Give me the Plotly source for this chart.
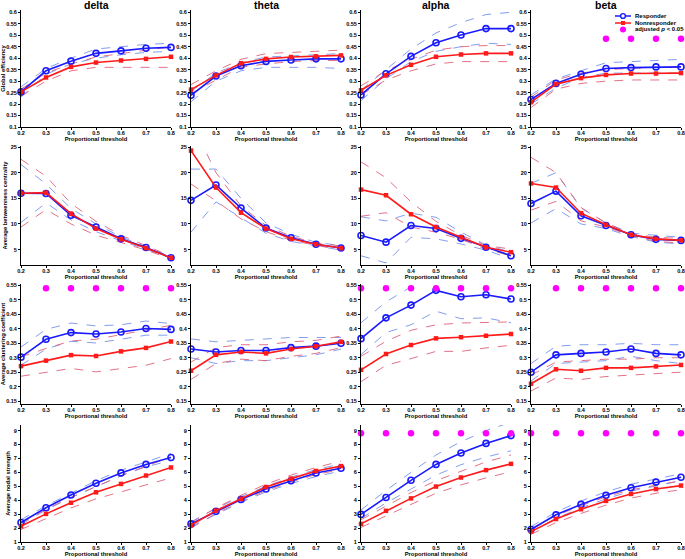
import plotly.graph_objects as go

W, H = 685, 559

thresholds = [0.2, 0.3, 0.4, 0.5, 0.6, 0.7, 0.8]
band_names = ["delta", "theta", "alpha", "beta"]
metric_names = ["Global efficiency", "Average betweenness centrality",
                "Average clustering coefficient", "Average nodal strength"]
x_title = "Proportional threshold"
legend_labels = ["Responder", "Nonresponder", "adjusted <i>p</i> < 0.05"]

# ---------------- Global efficiency ----------------
ge_delta_r = [0.253, 0.345, 0.387, 0.421, 0.432, 0.443, 0.447]
ge_delta_r_hi = [0.275, 0.355, 0.400, 0.440, 0.450, 0.460, 0.465]
ge_delta_r_lo = [0.230, 0.330, 0.375, 0.400, 0.415, 0.425, 0.430]
ge_delta_n = [0.253, 0.316, 0.362, 0.381, 0.390, 0.397, 0.406]
ge_delta_n_hi = [0.265, 0.335, 0.375, 0.405, 0.420, 0.435, 0.450]
ge_delta_n_lo = [0.235, 0.300, 0.345, 0.360, 0.360, 0.360, 0.360]

ge_theta_r = [0.238, 0.322, 0.367, 0.386, 0.392, 0.397, 0.397]
ge_theta_r_hi = [0.255, 0.335, 0.380, 0.405, 0.410, 0.415, 0.420]
ge_theta_r_lo = [0.210, 0.300, 0.345, 0.360, 0.360, 0.360, 0.355]
ge_theta_n = [0.263, 0.325, 0.378, 0.397, 0.405, 0.408, 0.412]
ge_theta_n_hi = [0.285, 0.345, 0.395, 0.420, 0.425, 0.430, 0.435]
ge_theta_n_lo = [0.245, 0.305, 0.360, 0.375, 0.385, 0.390, 0.390]

ge_alpha_r = [0.240, 0.332, 0.408, 0.467, 0.501, 0.529, 0.529]
ge_alpha_r_hi = [0.260, 0.350, 0.440, 0.510, 0.555, 0.590, 0.600]
ge_alpha_r_lo = [0.215, 0.310, 0.385, 0.430, 0.450, 0.465, 0.460]
ge_alpha_n = [0.260, 0.325, 0.371, 0.406, 0.416, 0.421, 0.421]
ge_alpha_n_hi = [0.280, 0.345, 0.395, 0.435, 0.450, 0.455, 0.455]
ge_alpha_n_lo = [0.240, 0.305, 0.345, 0.375, 0.385, 0.385, 0.385]

ge_beta_r = [0.220, 0.290, 0.330, 0.355, 0.359, 0.362, 0.362]
ge_beta_r_hi = [0.240, 0.310, 0.345, 0.380, 0.385, 0.390, 0.395]
ge_beta_r_lo = [0.200, 0.270, 0.315, 0.335, 0.335, 0.335, 0.335]
ge_beta_n = [0.208, 0.287, 0.313, 0.327, 0.333, 0.333, 0.335]
ge_beta_n_hi = [0.230, 0.305, 0.335, 0.350, 0.355, 0.360, 0.360]
ge_beta_n_lo = [0.185, 0.265, 0.290, 0.300, 0.305, 0.305, 0.305]

# ---------------- Betweenness centrality ----------------
bc_delta_r = [16.0, 15.95, 11.7, 9.4, 7.1, 5.4, 3.4]
bc_delta_r_hi = [21.6, 17.8, 13.0, 10.0, 7.5, 5.6, 3.6]
bc_delta_r_lo = [10.3, 14.1, 10.8, 8.5, 6.7, 5.1, 3.3]
bc_delta_n = [16.0, 16.1, 12.0, 9.1, 7.0, 5.3, 3.4]
bc_delta_n_hi = [22.6, 19.3, 14.0, 10.5, 7.8, 5.8, 3.7]
bc_delta_n_lo = [9.4, 12.8, 10.0, 7.8, 6.4, 4.9, 3.2]

bc_theta_r = [14.6, 17.6, 13.1, 9.2, 7.3, 6.05, 5.3]
bc_theta_r_hi = [20.7, 20.7, 15.0, 10.2, 8.0, 6.4, 5.8]
bc_theta_r_lo = [8.4, 14.3, 11.2, 8.2, 6.6, 5.7, 4.9]
bc_theta_n = [24.3, 17.1, 12.2, 9.1, 7.1, 6.05, 5.3]
bc_theta_n_hi = [30.0, 20.0, 13.5, 9.7, 7.6, 6.3, 5.7]
bc_theta_n_lo = [17.8, 14.5, 11.0, 8.5, 6.8, 5.8, 4.9]

bc_alpha_r = [7.75, 6.45, 9.7, 9.1, 7.2, 5.45, 3.8]
bc_alpha_r_hi = [11.4, 10.6, 12.1, 11.3, 8.4, 5.9, 4.5]
bc_alpha_r_lo = [3.8, 2.4, 7.4, 7.1, 6.1, 4.9, 3.2]
bc_alpha_n = [16.7, 15.6, 11.9, 9.4, 7.4, 5.45, 4.5]
bc_alpha_n_hi = [22.1, 19.0, 14.3, 10.5, 7.8, 5.8, 5.1]
bc_alpha_n_lo = [11.5, 12.2, 9.4, 8.4, 7.0, 5.1, 3.8]

bc_beta_r = [14.0, 16.4, 11.6, 9.7, 7.9, 7.0, 6.8]
bc_beta_r_hi = [17.9, 20.0, 13.1, 10.2, 8.2, 7.75, 7.4]
bc_beta_r_lo = [10.2, 13.0, 10.0, 9.1, 7.55, 6.45, 6.1]
bc_beta_n = [17.9, 17.1, 12.1, 9.85, 7.9, 7.1, 6.8]
bc_beta_n_hi = [23.0, 20.0, 13.2, 10.2, 8.1, 7.4, 7.2]
bc_beta_n_lo = [12.7, 14.4, 10.6, 9.4, 7.75, 6.6, 6.3]

# ---------------- Clustering coefficient ----------------
cc_delta_r = [0.302, 0.364, 0.387, 0.382, 0.389, 0.401, 0.398]
cc_delta_r_hi = [0.337, 0.398, 0.420, 0.410, 0.414, 0.427, 0.418]
cc_delta_r_lo = [0.274, 0.330, 0.357, 0.351, 0.364, 0.378, 0.378]
cc_delta_n = [0.271, 0.290, 0.309, 0.306, 0.322, 0.334, 0.356]
cc_delta_n_hi = [0.303, 0.332, 0.358, 0.364, 0.380, 0.395, 0.412]
cc_delta_n_lo = [0.236, 0.250, 0.263, 0.251, 0.263, 0.274, 0.297]

cc_theta_r = [0.330, 0.320, 0.325, 0.325, 0.335, 0.340, 0.350]
cc_theta_r_hi = [0.365, 0.355, 0.360, 0.365, 0.370, 0.370, 0.370]
cc_theta_r_lo = [0.300, 0.280, 0.290, 0.290, 0.300, 0.310, 0.330]
cc_theta_n = [0.255, 0.310, 0.320, 0.315, 0.330, 0.340, 0.355]
cc_theta_n_hi = [0.285, 0.335, 0.345, 0.345, 0.355, 0.360, 0.375]
cc_theta_n_lo = [0.225, 0.280, 0.295, 0.290, 0.305, 0.315, 0.335]

cc_alpha_r = [0.366, 0.438, 0.482, 0.533, 0.511, 0.518, 0.503]
cc_alpha_r_hi = [0.421, 0.493, 0.545, 0.585, 0.570, 0.575, 0.560]
cc_alpha_r_lo = [0.311, 0.387, 0.414, 0.461, 0.435, 0.438, 0.421]
cc_alpha_n = [0.258, 0.313, 0.344, 0.367, 0.371, 0.376, 0.382]
cc_alpha_n_hi = [0.305, 0.357, 0.395, 0.414, 0.420, 0.422, 0.424]
cc_alpha_n_lo = [0.217, 0.274, 0.297, 0.322, 0.322, 0.334, 0.343]

cc_beta_r = [0.250, 0.310, 0.315, 0.320, 0.330, 0.315, 0.310]
cc_beta_r_hi = [0.280, 0.340, 0.345, 0.345, 0.350, 0.345, 0.345]
cc_beta_r_lo = [0.220, 0.280, 0.285, 0.290, 0.305, 0.290, 0.280]
cc_beta_n = [0.210, 0.260, 0.255, 0.265, 0.265, 0.270, 0.275]
cc_beta_n_hi = [0.240, 0.285, 0.290, 0.295, 0.295, 0.300, 0.300]
cc_beta_n_lo = [0.185, 0.230, 0.225, 0.235, 0.240, 0.245, 0.250]

# ---------------- Nodal strength ----------------
ns_delta_r = [2.40, 3.46, 4.37, 5.22, 5.96, 6.57, 7.07]
ns_delta_r_hi = [2.60, 3.60, 4.50, 5.40, 6.15, 6.75, 7.35]
ns_delta_r_lo = [2.25, 3.30, 4.20, 5.00, 5.75, 6.40, 6.85]
ns_delta_n = [2.13, 3.02, 3.82, 4.57, 5.17, 5.77, 6.35]
ns_delta_n_hi = [2.35, 3.35, 4.20, 5.00, 5.75, 6.45, 7.10]
ns_delta_n_lo = [1.90, 2.70, 3.45, 4.10, 4.60, 5.10, 5.60]

ns_theta_r = [2.30, 3.20, 4.05, 4.80, 5.40, 5.95, 6.30]
ns_theta_r_hi = [2.45, 3.40, 4.25, 5.00, 5.65, 6.20, 6.60]
ns_theta_r_lo = [2.10, 3.00, 3.85, 4.60, 5.20, 5.70, 6.10]
ns_theta_n = [2.20, 3.25, 4.10, 4.95, 5.55, 6.10, 6.45]
ns_theta_n_hi = [2.40, 3.45, 4.35, 5.15, 5.80, 6.35, 6.80]
ns_theta_n_lo = [2.00, 3.05, 3.90, 4.70, 5.30, 5.85, 6.20]

ns_alpha_r = [2.98, 4.20, 5.43, 6.57, 7.39, 8.08, 8.64]
ns_alpha_r_hi = [3.30, 4.70, 6.00, 7.25, 8.20, 9.00, 9.60]
ns_alpha_r_lo = [2.70, 3.80, 4.80, 5.80, 6.55, 7.10, 7.55]
ns_alpha_n = [2.30, 3.24, 4.13, 4.98, 5.63, 6.16, 6.61]
ns_alpha_n_hi = [2.60, 3.60, 4.55, 5.40, 6.10, 6.75, 7.25]
ns_alpha_n_lo = [2.05, 2.90, 3.70, 4.50, 5.10, 5.60, 6.05]

ns_beta_r = [1.90, 2.95, 3.70, 4.35, 4.90, 5.30, 5.65]
ns_beta_r_hi = [2.10, 3.15, 3.95, 4.60, 5.15, 5.55, 5.90]
ns_beta_r_lo = [1.75, 2.70, 3.45, 4.10, 4.65, 5.05, 5.40]
ns_beta_n = [1.75, 2.65, 3.35, 3.95, 4.45, 4.80, 5.05]
ns_beta_n_hi = [1.95, 2.90, 3.60, 4.25, 4.75, 5.10, 5.40]
ns_beta_n_lo = [1.55, 2.40, 3.05, 3.65, 4.15, 4.50, 4.75]

# ---------------- Significance markers (thresholds) ----------------
sig_ge_beta = [0.5, 0.6, 0.7, 0.8]
sig_cc_delta = [0.3, 0.4, 0.5, 0.6, 0.7, 0.8]
sig_cc_alpha = [0.2, 0.3, 0.4, 0.5, 0.6, 0.7, 0.8]
sig_cc_beta = [0.3, 0.4, 0.5, 0.6, 0.7, 0.8]
sig_ns_alpha = [0.2, 0.3, 0.4, 0.5, 0.6, 0.7, 0.8]
sig_ns_beta = [0.2, 0.3, 0.4, 0.5, 0.6, 0.7, 0.8]
sig_level = [0.485, None, 0.54, 8.8]

# axis settings per metric row
y_ranges = [[0.1, 0.61], [2, 25.2], [0.14, 0.555], [1, 9.4]]
y_ticks = [[0.1, 0.15, 0.2, 0.25, 0.3, 0.35, 0.4, 0.45, 0.5, 0.55, 0.6],
           [5, 10, 15, 20, 25],
           [0.15, 0.2, 0.25, 0.3, 0.35, 0.4, 0.45, 0.5, 0.55],
           [1, 2, 3, 4, 5, 6, 7, 8, 9]]

G = globals()
prefixes = ["ge", "bc", "cc", "ns"]

def cell(p, b):
    d = {}
    for k in ["r", "r_hi", "r_lo", "n", "n_hi", "n_lo"]:
        d[k] = G[f"{p}_{b}_{k}"]
    d["sig"] = G.get(f"sig_{p}_{b}", [])
    return d

# layout in pixels
col_px = [(21, 171), (191, 341), (361, 511), (531, 681)]
row_px = [(10, 127), (146, 265), (284, 404), (425, 542)]

BLUE = "#1a1aff"
RED = "#ff1a1a"
LBLUE = "rgba(110,140,235,0.85)"
LRED = "rgba(220,90,115,0.85)"
MAG = "#ff00ff"
FONT = "Liberation Sans, Arial, sans-serif"
TICKFONT = dict(size=5.5, family=FONT, color="black", weight="bold")
TFONT = dict(size=5.8, family=FONT, color="black", weight="bold")

fig = go.Figure()
layout = {}
for ri, p in enumerate(prefixes):
    for ci, b in enumerate(band_names):
        k = ri * 4 + ci + 1
        xa = "x" if k == 1 else f"x{k}"
        ya = "y" if k == 1 else f"y{k}"
        d = cell(p, b)
        for key, col in [("r_hi", LBLUE), ("r_lo", LBLUE), ("n_hi", LRED), ("n_lo", LRED)]:
            fig.add_trace(go.Scatter(x=thresholds, y=d[key], mode="lines",
                                     line=dict(color=col, width=1, dash="dash"),
                                     showlegend=False, hoverinfo="skip",
                                     xaxis=xa, yaxis=ya))
        fig.add_trace(go.Scatter(x=thresholds, y=d["r"], mode="lines+markers",
                                 name=legend_labels[0],
                                 line=dict(color=BLUE, width=1.6),
                                 marker=dict(symbol="circle-open", size=6, color=BLUE,
                                             line=dict(width=1.6, color=BLUE)),
                                 showlegend=False, cliponaxis=False,
                                 xaxis=xa, yaxis=ya))
        fig.add_trace(go.Scatter(x=thresholds, y=d["n"], mode="lines+markers",
                                 name=legend_labels[1],
                                 line=dict(color=RED, width=1.6),
                                 marker=dict(symbol="square", size=4.5, color=RED),
                                 showlegend=False, cliponaxis=False,
                                 xaxis=xa, yaxis=ya))
        sig = d["sig"]
        if sig:
            fig.add_trace(go.Scatter(x=sig, y=[sig_level[ri]] * len(sig),
                                     mode="markers", name=legend_labels[2],
                                     marker=dict(symbol="circle", size=6.5, color=MAG),
                                     showlegend=False, cliponaxis=False,
                                     xaxis=xa, yaxis=ya))
        x0, x1 = col_px[ci]
        y0, y1 = row_px[ri]
        layout[("xaxis" if k == 1 else f"xaxis{k}")] = dict(
            domain=[x0 / W, x1 / W], anchor=ya, range=[0.2, 0.8],
            tickvals=thresholds, ticktext=[f"{v:.1f}" for v in thresholds],
            showline=True, linecolor="black", linewidth=1, ticks="outside",
            ticklen=2, tickcolor="black", showgrid=False, zeroline=False,
            ticklabelstandoff=-2, automargin=False,
            tickfont=TICKFONT,
            title=dict(text=x_title, standoff=1, font=TFONT))
        layout[("yaxis" if k == 1 else f"yaxis{k}")] = dict(
            domain=[1 - y1 / H, 1 - y0 / H], anchor=xa, range=y_ranges[ri],
            tickvals=y_ticks[ri], showline=True, linecolor="black", linewidth=1,
            ticks="outside", ticklen=2, tickcolor="black", showgrid=False,
            zeroline=False, tickfont=TICKFONT, automargin=False,
            title=dict(text=metric_names[ri] if ci == 0 else "", standoff=2,
                       font=TFONT))

annotations = []
for ci, b in enumerate(band_names):
    x0, x1 = col_px[ci]
    annotations.append(dict(text=b, x=(x0 + x1) / 2 / W, y=1 - 5 / H,
                            xref="paper", yref="paper", showarrow=False,
                            xanchor="center", yanchor="middle",
                            font=dict(size=10.5, family=FONT, color="black", weight="bold")))

# compact legend (drawn in paper coordinates, as in the original figure)
leg_x0, leg_x1, leg_txt = 615, 631, 633
leg_rows = [16, 23, 29.5]
shapes = []
cx = (leg_x0 + leg_x1) / 2
shapes.append(dict(type="line", xref="paper", yref="paper",
                   x0=leg_x0 / W, x1=leg_x1 / W, y0=1 - leg_rows[0] / H, y1=1 - leg_rows[0] / H,
                   line=dict(color=BLUE, width=1.5)))
shapes.append(dict(type="circle", xref="paper", yref="paper",
                   x0=(cx - 2.4) / W, x1=(cx + 2.4) / W,
                   y0=1 - (leg_rows[0] + 2.4) / H, y1=1 - (leg_rows[0] - 2.4) / H,
                   line=dict(color=BLUE, width=1.4), fillcolor="white"))
shapes.append(dict(type="line", xref="paper", yref="paper",
                   x0=leg_x0 / W, x1=leg_x1 / W, y0=1 - leg_rows[1] / H, y1=1 - leg_rows[1] / H,
                   line=dict(color=RED, width=1.5)))
shapes.append(dict(type="rect", xref="paper", yref="paper",
                   x0=(cx - 2.0) / W, x1=(cx + 2.0) / W,
                   y0=1 - (leg_rows[1] + 2.0) / H, y1=1 - (leg_rows[1] - 2.0) / H,
                   line=dict(color=RED, width=0), fillcolor=RED))
shapes.append(dict(type="circle", xref="paper", yref="paper",
                   x0=(cx - 3.0) / W, x1=(cx + 3.0) / W,
                   y0=1 - (leg_rows[2] + 3.0) / H, y1=1 - (leg_rows[2] - 3.0) / H,
                   line=dict(color=MAG, width=0), fillcolor=MAG))
for lab, yy in zip(legend_labels, leg_rows):
    annotations.append(dict(text=lab, x=leg_txt / W, y=1 - yy / H,
                            xref="paper", yref="paper", showarrow=False,
                            xanchor="left", yanchor="middle",
                            font=dict(size=6, family=FONT, color="black", weight="bold")))

fig.update_layout(
    width=W, height=H, margin=dict(l=0, r=0, t=0, b=0, autoexpand=False),
    paper_bgcolor="white", plot_bgcolor="white",
    annotations=annotations, shapes=shapes, showlegend=False,
    **layout)

fig.write_html("out.html", config={"displayModeBar": False},
               post_script="document.body.style.margin='0px';document.body.style.overflow='hidden';")
